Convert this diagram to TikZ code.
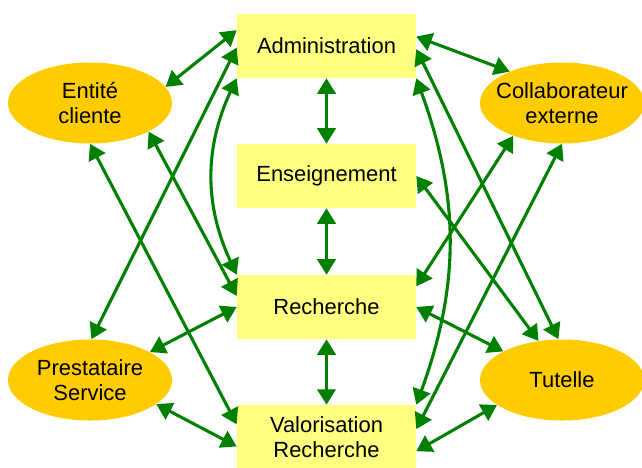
\documentclass[tikz,border=0pt]{standalone}
\usepackage{fontspec}
\setmainfont{Liberation Sans}
\usepackage{tikz}
\usetikzlibrary{arrows.meta}
\usetikzlibrary{shapes}

\definecolor{vert}{RGB}{0,128,0}
\definecolor{jaune}{RGB}{255,255,128}
\definecolor{ocre}{RGB}{255,204,0}

\tikzset{
  texte/.style={align=center,font=\fontsize{15.6}{18}\selectfont},
  pole/.style={rectangle,fill=jaune,minimum width=4.475cm,minimum height=1.6cm,texte},
  acteur/.style={ellipse,fill=ocre,minimum width=4.1cm,minimum height=2.025cm,inner sep=0pt,
    label={[texte]center:#1}},
  lien/.style={<->,draw=vert,line width=2.2pt,>={Triangle[length=11pt,width=13pt]}}
}

\begin{document}
\begin{tikzpicture}[x=0.025cm,y=-0.025cm]
\useasboundingbox (0,0) rectangle (642,467);
\draw (326.5,46) node[pole](adm){Administration};
\draw (326.5,176) node[pole](ens){Enseignement};
\draw (326.5,307) node[pole](rec){Recherche};
\draw (326.5,437) node[pole](val){Valorisation\\Recherche};
\draw (90,103) node[acteur={Entité\\cliente}](ent){};
\draw (562,103) node[acteur={Collaborateur\\externe}](col){};
\draw (90,380) node[acteur={Prestataire\\Service}](pre){};
\draw (562,380) node[acteur=Tutelle](tut){};

\draw[lien] (adm.south) -- (ens.north);
\draw[lien] (ens.south) -- (rec.north);
\draw[lien] (rec.south) -- (val.north);

\draw[lien] (adm.170.5) -- (ent.12.6);
\draw[lien] (adm.181) -- (pre.88);
\draw[lien] (adm.south west) to[bend right=25] (rec.north west);
\draw[lien] (ent.-26) -- (rec.173);
\draw[lien] (ent.south) -- (val.172);
\draw[lien] (rec.west) -- (pre.25);
\draw[lien] (pre.-20) -- (val.186);

\draw[lien] (adm.6.3) -- (col.149.7);
\draw[lien] (adm.-2) -- (tut.95);
\draw[lien] (adm.south east) to[bend left=20] (val.north east);
\draw[lien] (ens.east) -- (tut.121);
\draw[lien] (col.214) -- (rec.13);
\draw[lien] (col.south) -- (val.5);
\draw[lien] (rec.east) -- (tut.154);
\draw[lien] (val.-9) -- (tut.201.5);
\end{tikzpicture}
\end{document}
